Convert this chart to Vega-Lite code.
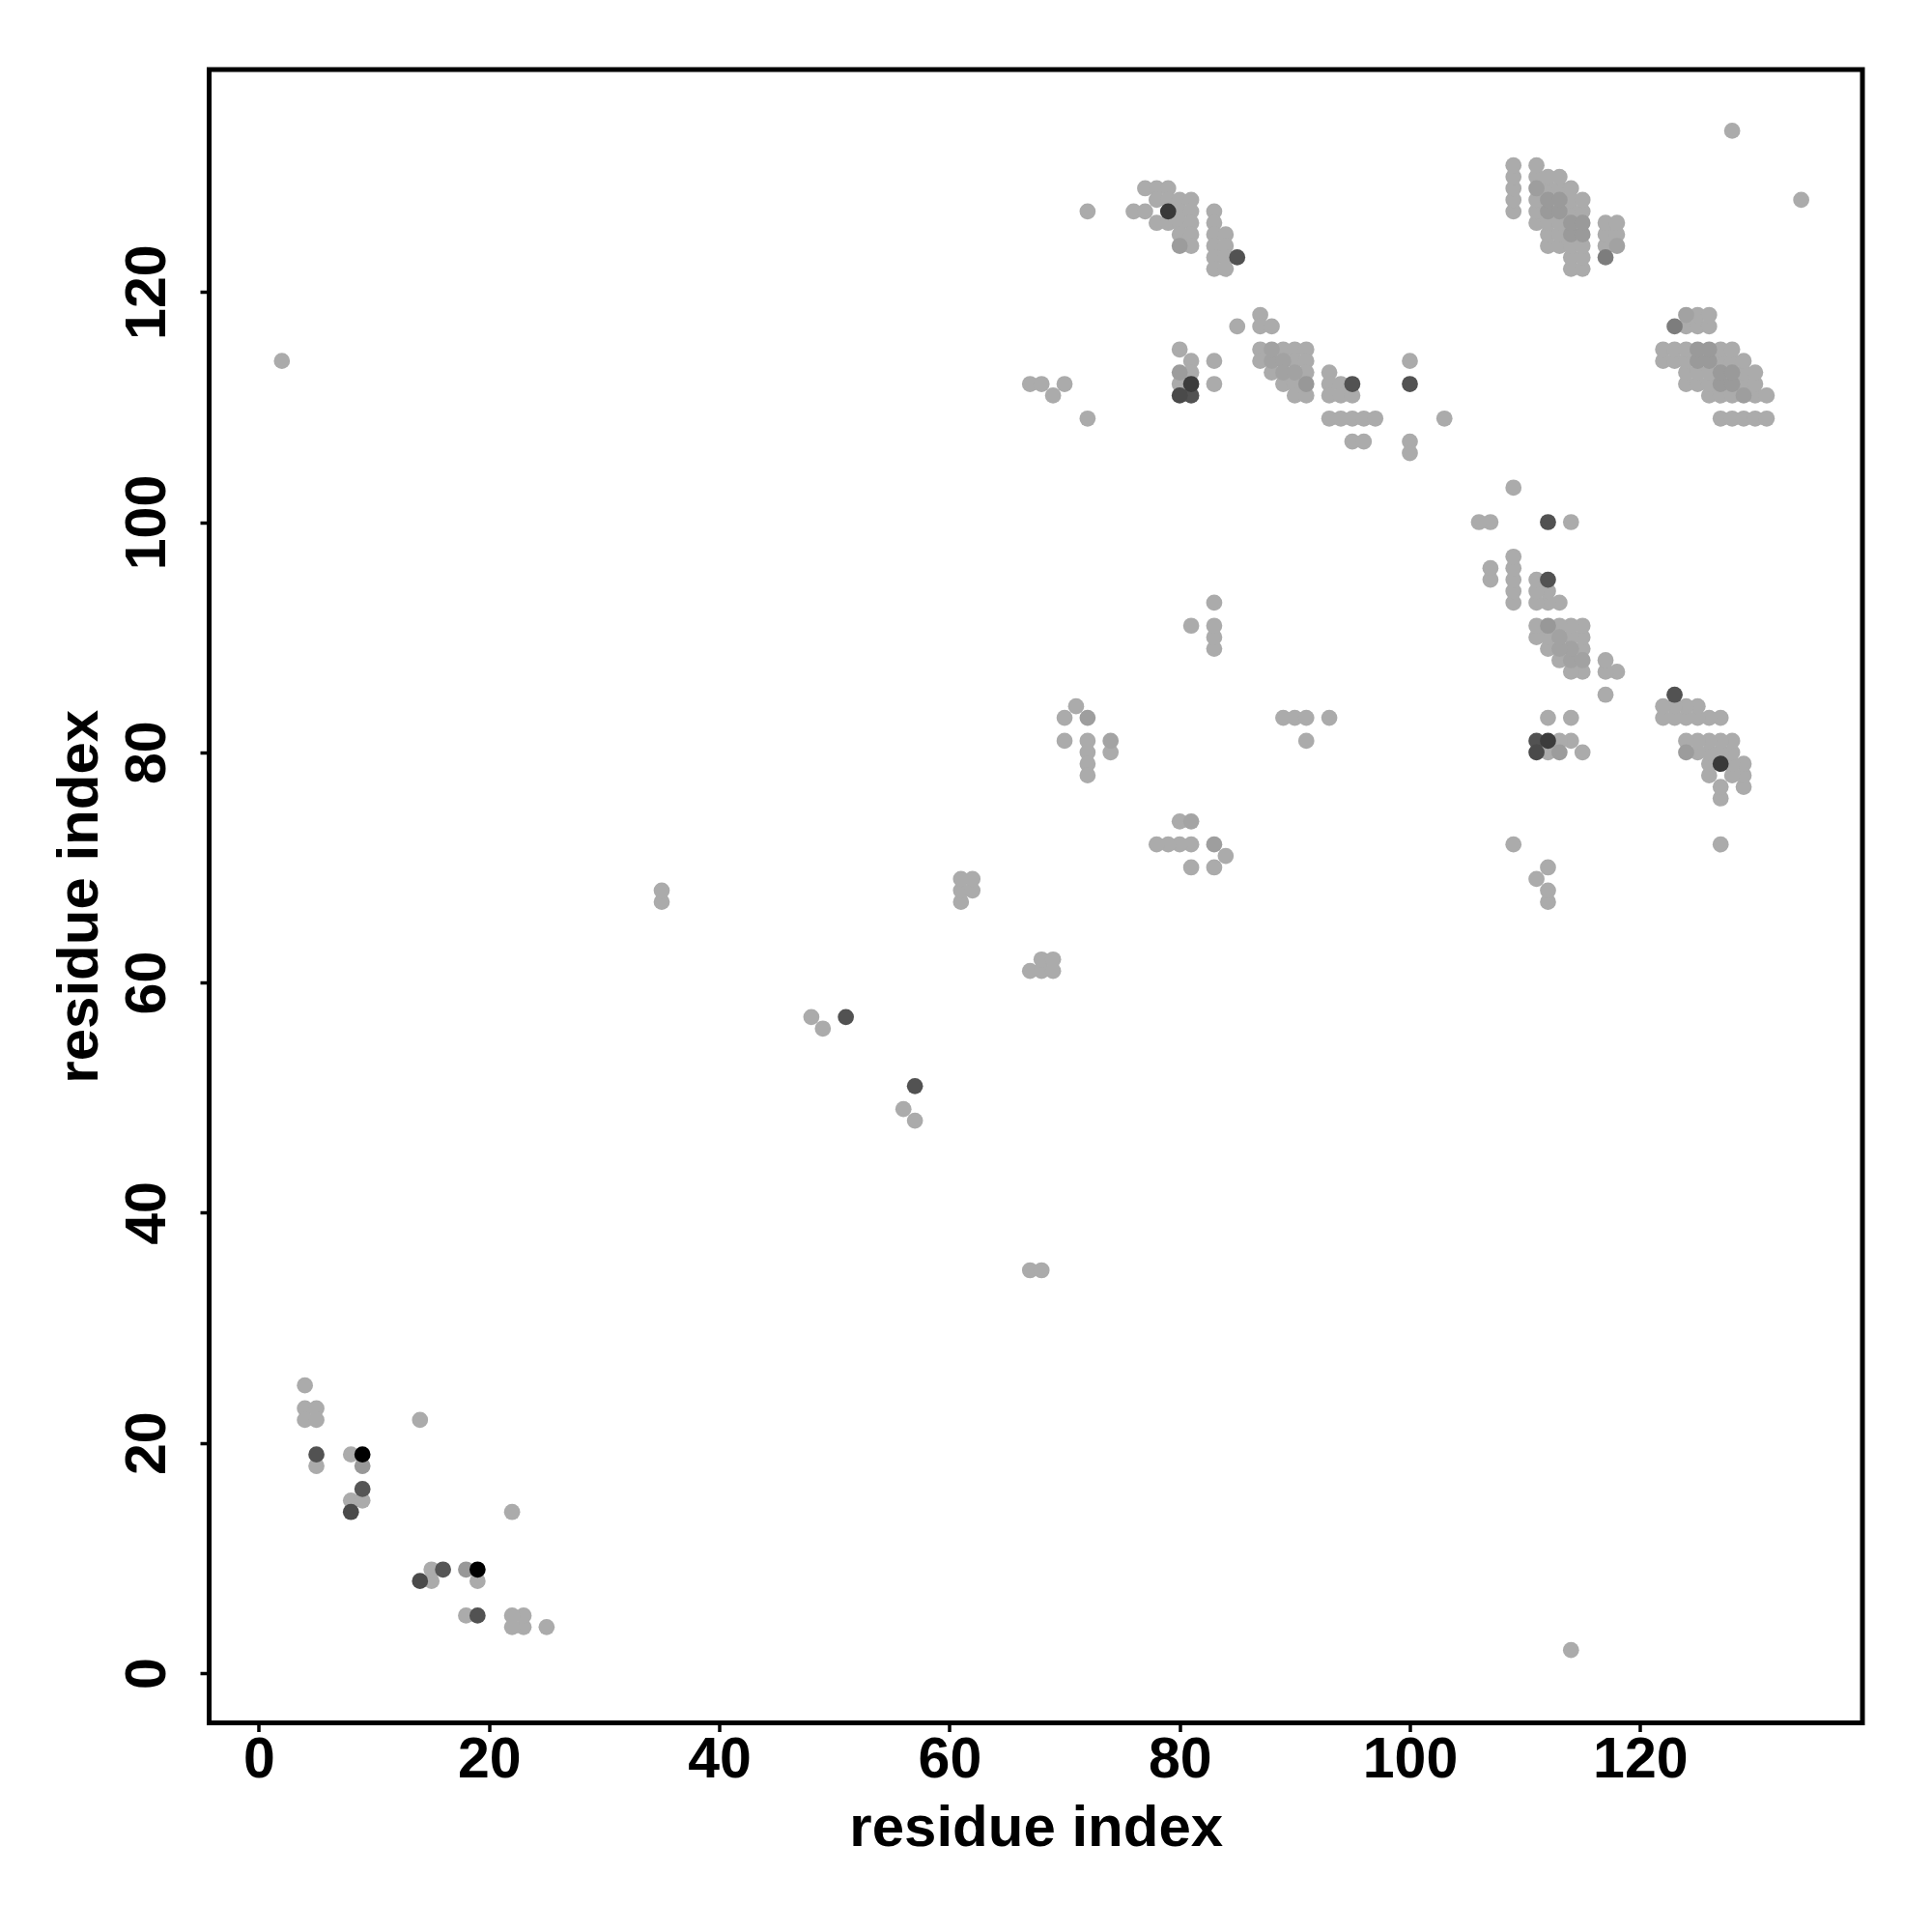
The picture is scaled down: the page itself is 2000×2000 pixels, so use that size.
{
"$schema": "https://vega.github.io/schema/vega-lite/v6.json",
"autosize": {"type": "none"},
"width": 1711.5,
"height": 1711.5,
"padding": {"left": 216.5, "top": 72, "right": 72, "bottom": 216.5},
"background": "white",
"config": {"view": {"stroke": "black", "strokeWidth": 5}, "font": "Liberation Sans"},
"data": {"values": [
{"i":4,"j":25,"score":0},{"i":25,"j":4,"score":0},
{"i":4,"j":23,"score":0},{"i":23,"j":4,"score":0},
{"i":5,"j":23,"score":0},{"i":23,"j":5,"score":0},
{"i":4,"j":22,"score":0},{"i":22,"j":4,"score":0},
{"i":5,"j":22,"score":0},{"i":22,"j":5,"score":0},
{"i":5,"j":18,"score":0},{"i":18,"j":5,"score":0},
{"i":14,"j":22,"score":0},{"i":22,"j":14,"score":0},
{"i":8,"j":19,"score":0},{"i":19,"j":8,"score":0},
{"i":8,"j":15,"score":0},{"i":15,"j":8,"score":0},
{"i":9,"j":15,"score":0},{"i":15,"j":9,"score":0},
{"i":2,"j":114,"score":0},{"i":114,"j":2,"score":0},
{"i":35,"j":67,"score":0},{"i":67,"j":35,"score":0},
{"i":35,"j":68,"score":0},{"i":68,"j":35,"score":0},
{"i":48,"j":57,"score":0},{"i":57,"j":48,"score":0},
{"i":49,"j":56,"score":0},{"i":56,"j":49,"score":0},
{"i":61,"j":67,"score":0},{"i":67,"j":61,"score":0},
{"i":61,"j":68,"score":0},{"i":68,"j":61,"score":0},
{"i":61,"j":69,"score":0},{"i":69,"j":61,"score":0},
{"i":62,"j":68,"score":0},{"i":68,"j":62,"score":0},
{"i":62,"j":69,"score":0},{"i":69,"j":62,"score":0},
{"i":67,"j":112,"score":0},{"i":112,"j":67,"score":0},
{"i":68,"j":112,"score":0},{"i":112,"j":68,"score":0},
{"i":70,"j":112,"score":0},{"i":112,"j":70,"score":0},
{"i":69,"j":111,"score":0},{"i":111,"j":69,"score":0},
{"i":72,"j":109,"score":0},{"i":109,"j":72,"score":0},
{"i":72,"j":127,"score":0},{"i":127,"j":72,"score":0},
{"i":70,"j":83,"score":0},{"i":83,"j":70,"score":0},
{"i":71,"j":84,"score":0},{"i":84,"j":71,"score":0},
{"i":70,"j":81,"score":0},{"i":81,"j":70,"score":0},
{"i":72,"j":81,"score":0},{"i":81,"j":72,"score":0},
{"i":72,"j":80,"score":0},{"i":80,"j":72,"score":0},
{"i":72,"j":79,"score":0},{"i":79,"j":72,"score":0},
{"i":72,"j":78,"score":0},{"i":78,"j":72,"score":0},
{"i":74,"j":80,"score":0},{"i":80,"j":74,"score":0},
{"i":81,"j":91,"score":0},{"i":91,"j":81,"score":0},
{"i":83,"j":89,"score":0},{"i":89,"j":83,"score":0},
{"i":83,"j":90,"score":0},{"i":90,"j":83,"score":0},
{"i":83,"j":91,"score":0},{"i":91,"j":83,"score":0},
{"i":83,"j":93,"score":0},{"i":93,"j":83,"score":0},
{"i":80,"j":115,"score":0},{"i":115,"j":80,"score":0},
{"i":81,"j":114,"score":0},{"i":114,"j":81,"score":0},
{"i":83,"j":114,"score":0},{"i":114,"j":83,"score":0},
{"i":81,"j":113,"score":0},{"i":113,"j":81,"score":0},
{"i":80,"j":112,"score":0},{"i":112,"j":80,"score":0},
{"i":83,"j":112,"score":0},{"i":112,"j":83,"score":0},
{"i":77,"j":129,"score":0},{"i":129,"j":77,"score":0},
{"i":78,"j":129,"score":0},{"i":129,"j":78,"score":0},
{"i":79,"j":129,"score":0},{"i":129,"j":79,"score":0},
{"i":78,"j":128,"score":0},{"i":128,"j":78,"score":0},
{"i":79,"j":128,"score":0},{"i":128,"j":79,"score":0},
{"i":80,"j":128,"score":0},{"i":128,"j":80,"score":0},
{"i":81,"j":128,"score":0},{"i":128,"j":81,"score":0},
{"i":76,"j":127,"score":0},{"i":127,"j":76,"score":0},
{"i":77,"j":127,"score":0},{"i":127,"j":77,"score":0},
{"i":80,"j":127,"score":0},{"i":127,"j":80,"score":0},
{"i":81,"j":127,"score":0},{"i":127,"j":81,"score":0},
{"i":78,"j":126,"score":0},{"i":126,"j":78,"score":0},
{"i":79,"j":126,"score":0},{"i":126,"j":79,"score":0},
{"i":80,"j":126,"score":0},{"i":126,"j":80,"score":0},
{"i":81,"j":126,"score":0},{"i":126,"j":81,"score":0},
{"i":80,"j":125,"score":0},{"i":125,"j":80,"score":0},
{"i":81,"j":125,"score":0},{"i":125,"j":81,"score":0},
{"i":81,"j":124,"score":0},{"i":124,"j":81,"score":0},
{"i":83,"j":127,"score":0},{"i":127,"j":83,"score":0},
{"i":83,"j":126,"score":0},{"i":126,"j":83,"score":0},
{"i":83,"j":125,"score":0},{"i":125,"j":83,"score":0},
{"i":83,"j":124,"score":0},{"i":124,"j":83,"score":0},
{"i":83,"j":123,"score":0},{"i":123,"j":83,"score":0},
{"i":83,"j":122,"score":0},{"i":122,"j":83,"score":0},
{"i":84,"j":125,"score":0},{"i":125,"j":84,"score":0},
{"i":84,"j":124,"score":0},{"i":124,"j":84,"score":0},
{"i":84,"j":123,"score":0},{"i":123,"j":84,"score":0},
{"i":84,"j":122,"score":0},{"i":122,"j":84,"score":0},
{"i":85,"j":117,"score":0},{"i":117,"j":85,"score":0},
{"i":87,"j":118,"score":0},{"i":118,"j":87,"score":0},
{"i":87,"j":117,"score":0},{"i":117,"j":87,"score":0},
{"i":88,"j":117,"score":0},{"i":117,"j":88,"score":0},
{"i":87,"j":115,"score":0},{"i":115,"j":87,"score":0},
{"i":89,"j":115,"score":0},{"i":115,"j":89,"score":0},
{"i":90,"j":115,"score":0},{"i":115,"j":90,"score":0},
{"i":91,"j":115,"score":0},{"i":115,"j":91,"score":0},
{"i":87,"j":114,"score":0},{"i":114,"j":87,"score":0},
{"i":90,"j":114,"score":0},{"i":114,"j":90,"score":0},
{"i":91,"j":114,"score":0},{"i":114,"j":91,"score":0},
{"i":88,"j":113,"score":0},{"i":113,"j":88,"score":0},
{"i":91,"j":113,"score":0},{"i":113,"j":91,"score":0},
{"i":93,"j":113,"score":0},{"i":113,"j":93,"score":0},
{"i":89,"j":112,"score":0},{"i":112,"j":89,"score":0},
{"i":90,"j":112,"score":0},{"i":112,"j":90,"score":0},
{"i":93,"j":112,"score":0},{"i":112,"j":93,"score":0},
{"i":94,"j":112,"score":0},{"i":112,"j":94,"score":0},
{"i":90,"j":111,"score":0},{"i":111,"j":90,"score":0},
{"i":91,"j":111,"score":0},{"i":111,"j":91,"score":0},
{"i":93,"j":111,"score":0},{"i":111,"j":93,"score":0},
{"i":94,"j":111,"score":0},{"i":111,"j":94,"score":0},
{"i":95,"j":111,"score":0},{"i":111,"j":95,"score":0},
{"i":93,"j":109,"score":0},{"i":109,"j":93,"score":0},
{"i":94,"j":109,"score":0},{"i":109,"j":94,"score":0},
{"i":95,"j":109,"score":0},{"i":109,"j":95,"score":0},
{"i":96,"j":109,"score":0},{"i":109,"j":96,"score":0},
{"i":97,"j":109,"score":0},{"i":109,"j":97,"score":0},
{"i":95,"j":107,"score":0},{"i":107,"j":95,"score":0},
{"i":96,"j":107,"score":0},{"i":107,"j":96,"score":0},
{"i":100,"j":114,"score":0},{"i":114,"j":100,"score":0},
{"i":100,"j":107,"score":0},{"i":107,"j":100,"score":0},
{"i":100,"j":106,"score":0},{"i":106,"j":100,"score":0},
{"i":103,"j":109,"score":0},{"i":109,"j":103,"score":0},
{"i":109,"j":127,"score":0},{"i":127,"j":109,"score":0},
{"i":109,"j":128,"score":0},{"i":128,"j":109,"score":0},
{"i":109,"j":129,"score":0},{"i":129,"j":109,"score":0},
{"i":109,"j":130,"score":0},{"i":130,"j":109,"score":0},
{"i":109,"j":131,"score":0},{"i":131,"j":109,"score":0},
{"i":111,"j":126,"score":0},{"i":126,"j":111,"score":0},
{"i":111,"j":127,"score":0},{"i":127,"j":111,"score":0},
{"i":111,"j":128,"score":0},{"i":128,"j":111,"score":0},
{"i":111,"j":130,"score":0},{"i":130,"j":111,"score":0},
{"i":111,"j":131,"score":0},{"i":131,"j":111,"score":0},
{"i":112,"j":124,"score":0},{"i":124,"j":112,"score":0},
{"i":112,"j":125,"score":0},{"i":125,"j":112,"score":0},
{"i":112,"j":126,"score":0},{"i":126,"j":112,"score":0},
{"i":112,"j":129,"score":0},{"i":129,"j":112,"score":0},
{"i":112,"j":130,"score":0},{"i":130,"j":112,"score":0},
{"i":113,"j":124,"score":0},{"i":124,"j":113,"score":0},
{"i":113,"j":125,"score":0},{"i":125,"j":113,"score":0},
{"i":113,"j":126,"score":0},{"i":126,"j":113,"score":0},
{"i":113,"j":129,"score":0},{"i":129,"j":113,"score":0},
{"i":113,"j":130,"score":0},{"i":130,"j":113,"score":0},
{"i":114,"j":122,"score":0},{"i":122,"j":114,"score":0},
{"i":114,"j":123,"score":0},{"i":123,"j":114,"score":0},
{"i":114,"j":124,"score":0},{"i":124,"j":114,"score":0},
{"i":114,"j":127,"score":0},{"i":127,"j":114,"score":0},
{"i":114,"j":128,"score":0},{"i":128,"j":114,"score":0},
{"i":114,"j":129,"score":0},{"i":129,"j":114,"score":0},
{"i":115,"j":122,"score":0},{"i":122,"j":115,"score":0},
{"i":115,"j":123,"score":0},{"i":123,"j":115,"score":0},
{"i":115,"j":124,"score":0},{"i":124,"j":115,"score":0},
{"i":115,"j":127,"score":0},{"i":127,"j":115,"score":0},
{"i":115,"j":128,"score":0},{"i":128,"j":115,"score":0},
{"i":117,"j":124,"score":0},{"i":124,"j":117,"score":0},
{"i":117,"j":125,"score":0},{"i":125,"j":117,"score":0},
{"i":117,"j":126,"score":0},{"i":126,"j":117,"score":0},
{"i":118,"j":125,"score":0},{"i":125,"j":118,"score":0},
{"i":118,"j":126,"score":0},{"i":126,"j":118,"score":0},
{"i":128,"j":134,"score":0},{"i":134,"j":128,"score":0},
{"i":74,"j":81,"score":0.04},{"i":81,"j":74,"score":0.04},
{"i":88,"j":114,"score":0.05},{"i":114,"j":88,"score":0.05},
{"i":89,"j":114,"score":0.05},{"i":114,"j":89,"score":0.05},
{"i":88,"j":115,"score":0.05},{"i":115,"j":88,"score":0.05},
{"i":89,"j":113,"score":0.05},{"i":113,"j":89,"score":0.05},
{"i":90,"j":113,"score":0.05},{"i":113,"j":90,"score":0.05},
{"i":118,"j":124,"score":0.05},{"i":124,"j":118,"score":0.05},
{"i":9,"j":18,"score":0.1},{"i":18,"j":9,"score":0.1},
{"i":72,"j":83,"score":0.07},{"i":83,"j":72,"score":0.07},
{"i":80,"j":113,"score":0.08},{"i":113,"j":80,"score":0.08},
{"i":80,"j":124,"score":0.08},{"i":124,"j":80,"score":0.08},
{"i":111,"j":129,"score":0.07},{"i":129,"j":111,"score":0.07},
{"i":91,"j":112,"score":0.1},{"i":112,"j":91,"score":0.1},
{"i":112,"j":127,"score":0.09},{"i":127,"j":112,"score":0.09},
{"i":112,"j":128,"score":0.09},{"i":128,"j":112,"score":0.09},
{"i":113,"j":127,"score":0.09},{"i":127,"j":113,"score":0.09},
{"i":113,"j":128,"score":0.09},{"i":128,"j":113,"score":0.09},
{"i":114,"j":125,"score":0.09},{"i":125,"j":114,"score":0.09},
{"i":114,"j":126,"score":0.09},{"i":126,"j":114,"score":0.09},
{"i":115,"j":125,"score":0.09},{"i":125,"j":115,"score":0.09},
{"i":115,"j":126,"score":0.09},{"i":126,"j":115,"score":0.09},
{"i":117,"j":123,"score":0.25},{"i":123,"j":117,"score":0.25},
{"i":5,"j":19,"score":0.5},{"i":19,"j":5,"score":0.5},
{"i":9,"j":16,"score":0.48},{"i":16,"j":9,"score":0.48},
{"i":51,"j":57,"score":0.5},{"i":57,"j":51,"score":0.5},
{"i":95,"j":112,"score":0.5},{"i":112,"j":95,"score":0.5},
{"i":100,"j":112,"score":0.5},{"i":112,"j":100,"score":0.5},
{"i":85,"j":123,"score":0.5},{"i":123,"j":85,"score":0.5},
{"i":81,"j":111,"score":0.5},{"i":111,"j":81,"score":0.5},
{"i":80,"j":111,"score":0.55},{"i":111,"j":80,"score":0.55},
{"i":8,"j":14,"score":0.55},{"i":14,"j":8,"score":0.55},
{"i":81,"j":112,"score":0.64},{"i":112,"j":81,"score":0.64},
{"i":79,"j":127,"score":0.66},{"i":127,"j":79,"score":0.66},
{"i":9,"j":19,"score":1},{"i":19,"j":9,"score":1}
]},
"mark": {"type": "circle", "size": 280, "opacity": 1},
"encoding": {
  "x": {"field": "i", "type": "quantitative",
    "scale": {"domain": [-4.32, 139.32], "nice": false, "zero": false},
    "axis": {"values": [0, 20, 40, 60, 80, 100, 120], "grid": false, "domain": false,
      "tickSize": 9, "tickWidth": 3.5, "tickColor": "black",
      "labelFont": "Liberation Sans", "labelFontSize": 59, "labelFontWeight": "bold", "labelColor": "black",
      "labelBaseline": "alphabetic", "labelPadding": 47, "labelFlush": false, "labelOverlap": false,
      "title": "residue index", "titleFont": "Liberation Sans", "titleFontSize": 60, "titleFontWeight": "bold",
      "titleColor": "black", "titleX": 855.75, "titleY": 126.5, "titleBaseline": "alphabetic", "titleAlign": "center"}},
  "y": {"field": "j", "type": "quantitative",
    "scale": {"domain": [-4.32, 139.32], "nice": false, "zero": false},
    "axis": {"values": [0, 20, 40, 60, 80, 100, 120], "grid": false, "domain": false,
      "tickSize": 9.5, "tickWidth": 3.5, "tickColor": "black",
      "labelFont": "Liberation Sans", "labelFontSize": 59, "labelFontWeight": "bold", "labelColor": "black",
      "labelAngle": -90, "labelAlign": "center", "labelBaseline": "alphabetic", "labelPadding": 37,
      "labelFlush": false, "labelOverlap": false,
      "title": "residue index", "titleFont": "Liberation Sans", "titleFontSize": 60, "titleFontWeight": "bold",
      "titleColor": "black", "titleAngle": 270, "titleX": -116.5, "titleY": 855.75, "titleBaseline": "alphabetic", "titleAlign": "center"}},
  "color": {"field": "score", "type": "quantitative",
    "scale": {"domain": [0, 1], "range": ["#ababab", "#000000"]}, "legend": null}
}
}
